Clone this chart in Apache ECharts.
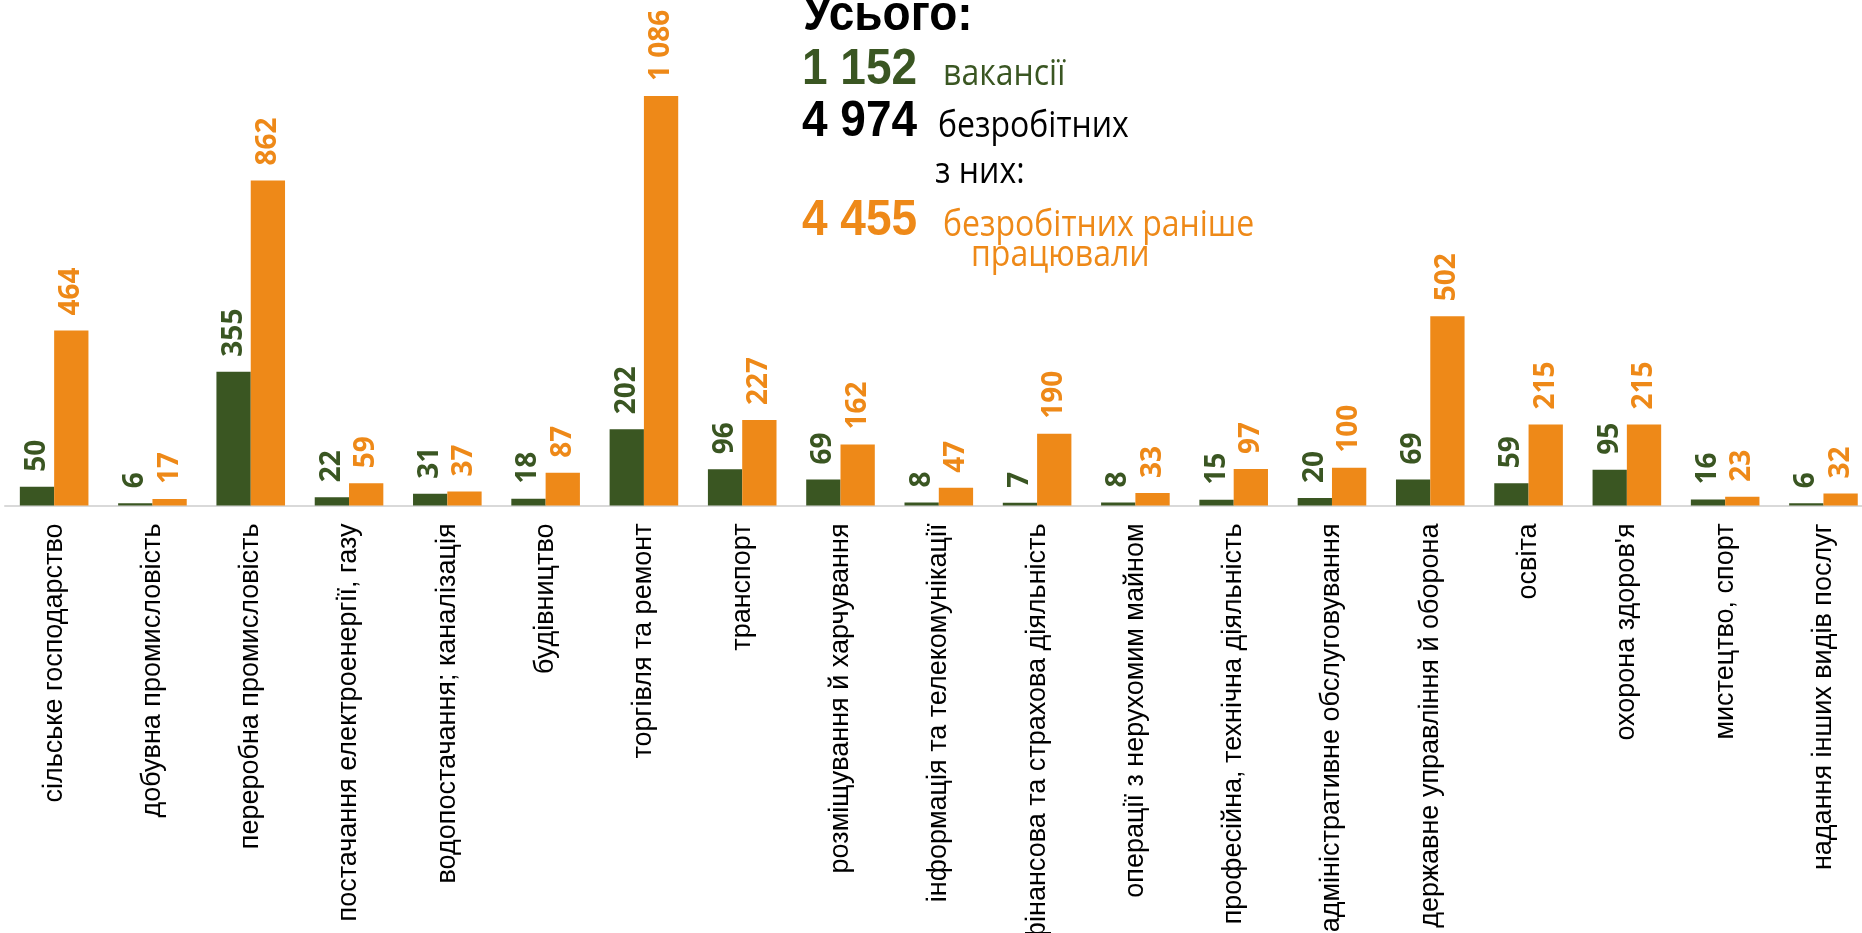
<!DOCTYPE html>
<html>
<head>
<meta charset="utf-8">
<script src="https://cdn.jsdelivr.net/npm/echarts@6/dist/echarts.min.js"></script>
<style>
html,body{margin:0;padding:0;background:#fff;}
#chart{width:1862px;height:933px;}
</style>
</head>
<body>
<div id="chart"></div>
<script>
const categories = ['сільське господарство','добувна промисловість','переробна промисловість','постачання електроенергії, газу','водопостачання; каналізація','будівництво','торгівля та ремонт','транспорт','розміщування й харчування','інформація та телекомунікації','фінансова та страхова діяльність','операції з нерухомим майном','професійна, технічна діяльність','адміністративне обслуговування','державне управління й оборона','освіта',"охорона здоров'я",'мистецтво, спорт','надання інших видів послуг'];
const vacancies = [50,6,355,22,31,18,202,96,69,8,7,8,15,20,69,59,95,16,6];
const formerlyEmployed = [464,17,862,59,37,87,1086,227,162,47,190,33,97,100,502,215,215,23,32];
const totalUnemployed = 4974;

const GREEN = '#3a5622';
const ORANGE = '#ee8918';
const fmt = v => String(v).replace(/\B(?=(\d{3})+(?!\d))/g, ' ');
const sum = a => a.reduce((s, v) => s + v, 0);

const chart = echarts.init(document.getElementById('chart'));
const labelCfg = color => ({
  show: true, position: 'top', rotate: 90, align: 'left', verticalAlign: 'middle',
  distance: 15, color: color, fontFamily: '"Open Sans"', fontWeight: 'bold', fontSize: 28,
  formatter: p => fmt(p.value)
});
const numFont = 'bold 46px "Liberation Sans"';
const txtFont = '32px "Open Sans"';
chart.setOption({
  animation: false,
  grid: {left: 5, width: 1867.6, top: 53, bottom: 427.5, containLabel: false, outerBoundsMode: 'none'},
  xAxis: {
    type: 'category', data: categories, boundaryGap: true,
    axisLine: {show: true, lineStyle: {color: '#d9d9d9', width: 2}},
    axisTick: {show: false},
    axisLabel: {rotate: 90, interval: 0, margin: 18, color: '#000', fontFamily: '"Liberation Sans"', fontSize: 27, hideOverlap: false}
  },
  yAxis: {type: 'value', min: 0, max: 1200, show: false, splitLine: {show: false}},
  series: [
    {type: 'bar', name: 'вакансії', data: vacancies, barWidth: 34.3, barGap: '0%', itemStyle: {color: GREEN}, label: labelCfg(GREEN)},
    {type: 'bar', name: 'безробітні', data: formerlyEmployed, barWidth: 34.3, barGap: '0%', itemStyle: {color: ORANGE}, label: labelCfg(ORANGE)}
  ],
  graphic: [
    {type: 'text', x: 803, y: 16, scaleY: 1.1, style: {text: 'Усього:', font: numFont, fill: '#000', verticalAlign: 'middle'}},
    {type: 'text', x: 802, y: 70, scaleY: 1.1, style: {text: fmt(sum(vacancies)), font: numFont, fill: GREEN, verticalAlign: 'middle'}},
    {type: 'text', x: 943, y: 75, scaleY: 1.15, style: {text: 'вакансії', font: txtFont, fill: GREEN, verticalAlign: 'middle'}},
    {type: 'text', x: 802, y: 122, scaleY: 1.1, style: {text: fmt(totalUnemployed), font: numFont, fill: '#000', verticalAlign: 'middle'}},
    {type: 'text', x: 938, y: 127, scaleY: 1.15, style: {text: 'безробітних', font: txtFont, fill: '#000', verticalAlign: 'middle'}},
    {type: 'text', x: 935, y: 173, scaleY: 1.15, style: {text: 'з них:', font: txtFont, fill: '#000', verticalAlign: 'middle'}},
    {type: 'text', x: 802, y: 221, scaleY: 1.1, style: {text: fmt(sum(formerlyEmployed)), font: numFont, fill: ORANGE, verticalAlign: 'middle'}},
    {type: 'text', x: 943, y: 226, scaleY: 1.15, style: {text: 'безробітних раніше', font: txtFont, fill: ORANGE, verticalAlign: 'middle'}},
    {type: 'text', x: 971, y: 256, scaleY: 1.15, style: {text: 'працювали', font: txtFont, fill: ORANGE, verticalAlign: 'middle'}}
  ]
});
</script>
</body>
</html>
